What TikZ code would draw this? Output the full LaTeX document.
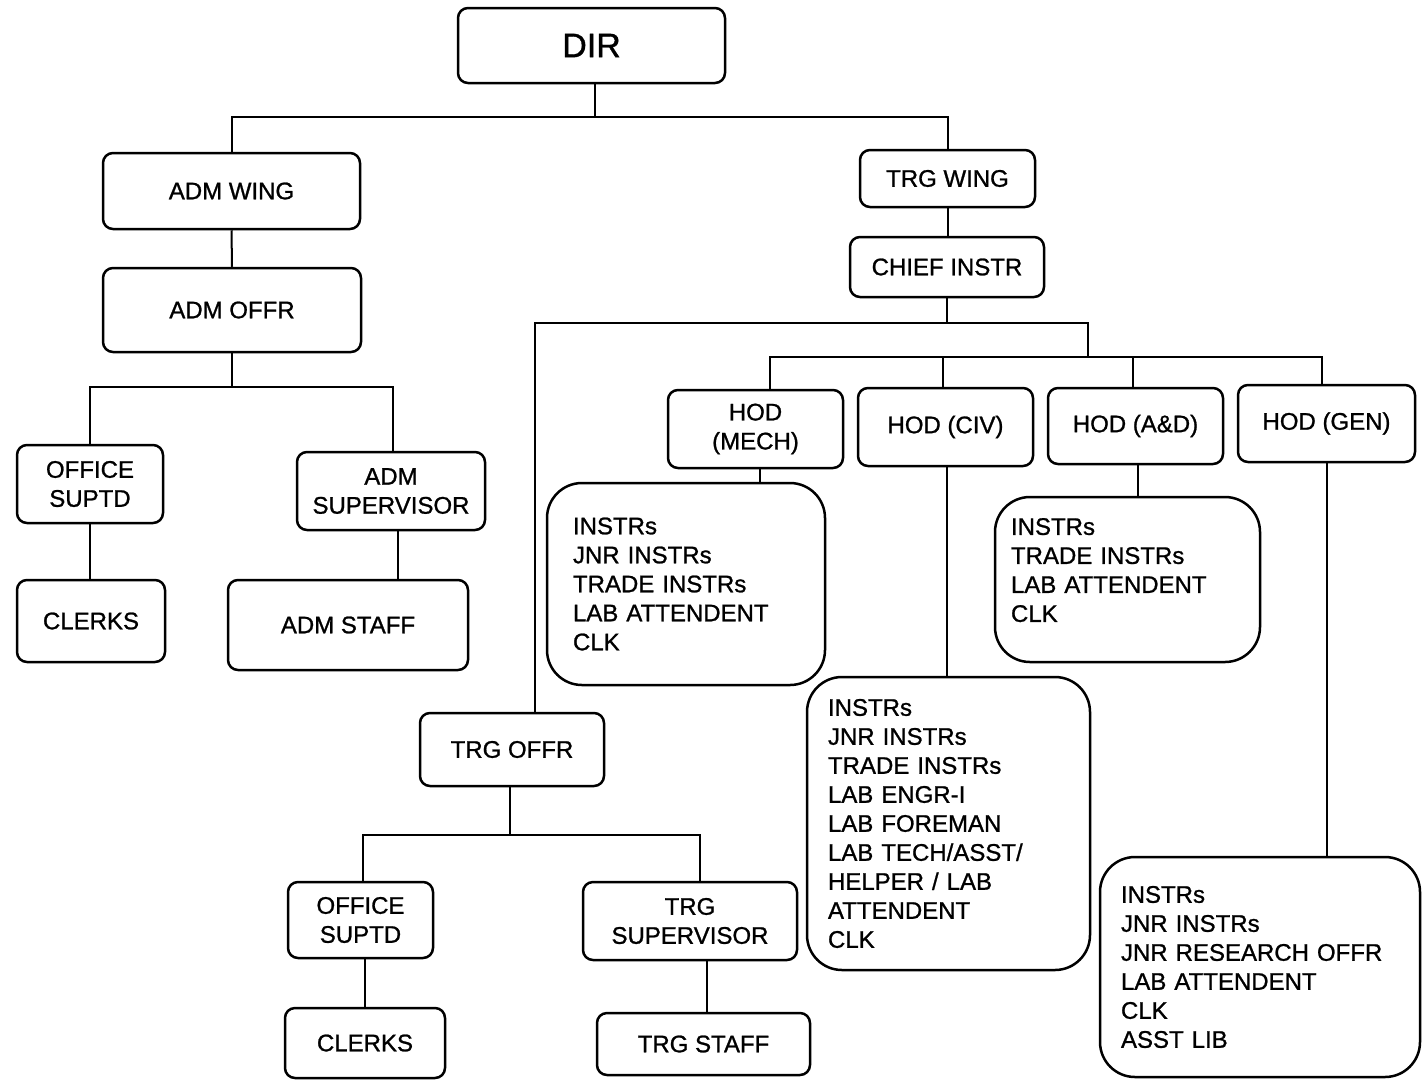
\documentclass[tikz,border=0pt]{standalone}
\usepackage{fontspec}
\setmainfont{Liberation Sans}[BoldFont={Liberation Sans},BoldFeatures={FakeBold=1}]
\begin{document}
\begin{tikzpicture}[x=1pt,y=-1pt,
  box/.style={draw, line width=2.5pt, rounded corners=10pt, align=center,
    font=\fontsize{24}{29}\selectfont\bfseries, inner sep=0pt},
  staff/.style={draw, line width=2.5pt, rounded corners=35pt, align=left,
    font=\fontsize{24}{29}\selectfont\bfseries, inner ysep=0pt},
  conn/.style={line width=2pt}]
\fill[white] (0,0) rectangle (1423,1080);
\useasboundingbox (0,0) rectangle (1423,1080);

% boxes
\node[box, minimum width=267pt, minimum height=75pt, font=\fontsize{34}{40}\selectfont\bfseries] (dir) at (591.5,45.5) {DIR};
\node[box, minimum width=257pt, minimum height=76pt] (admwing) at (231.5,191) {ADM WING};
\node[box, minimum width=258pt, minimum height=84pt] (admoffr) at (232,310) {ADM OFFR};
\node[box, minimum width=146pt, minimum height=78pt] (offsup1) at (90,484) {OFFICE\\SUPTD};
\node[box, minimum width=188pt, minimum height=78pt] (admsup) at (391,491) {ADM\\SUPERVISOR};
\node[box, minimum width=148pt, minimum height=82pt] (clerks1) at (91,621) {CLERKS};
\node[box, minimum width=240pt, minimum height=90pt] (admstaff) at (348,625) {ADM STAFF};

\node[box, minimum width=175pt, minimum height=57pt] (trgwing) at (947.5,178.5) {TRG WING};
\node[box, minimum width=194pt, minimum height=60pt] (chief) at (947,267) {CHIEF INSTR};
\node[box, minimum width=175pt, minimum height=78pt] (hodmech) at (755.5,429) {HOD\\(MECH)};
\node[box, minimum width=175pt, minimum height=78pt] (hodciv) at (945.5,427) {HOD (CIV)};
\node[box, minimum width=175pt, minimum height=76pt] (hodad) at (1135.5,426) {HOD (A\&D)};
\node[box, minimum width=177pt, minimum height=77pt] (hodgen) at (1326.5,423.5) {HOD (GEN)};

\node[staff, minimum height=202pt, text width=226pt, inner xsep=26pt] (mechstaff) at (686,584)
  {INSTRs\\JNR INSTRs\\TRADE INSTRs\\LAB ATTENDENT\\CLK};
\node[staff, minimum height=165pt, text width=233pt, inner xsep=16pt] (adstaff) at (1127.5,579.5)
  {INSTRs\\TRADE INSTRs\\LAB ATTENDENT\\CLK\\[-10pt]\mbox{}};
\node[staff, minimum height=293pt, text width=241pt, inner xsep=21pt] (civstaff) at (948.5,823.5)
  {INSTRs\\JNR INSTRs\\TRADE INSTRs\\LAB ENGR-I\\LAB FOREMAN\\LAB TECH/ASST/\\HELPER / LAB\\ATTENDENT\\CLK};
\node[staff, minimum height=220pt, text width=278pt, inner xsep=21pt] (genstaff) at (1260,967)
  {INSTRs\\JNR INSTRs\\JNR RESEARCH OFFR\\LAB ATTENDENT\\CLK\\ASST LIB};

\node[box, minimum width=184pt, minimum height=73pt] (trgoffr) at (512,749.5) {TRG OFFR};
\node[box, minimum width=145pt, minimum height=76pt] (offsup2) at (360.5,920) {OFFICE\\SUPTD};
\node[box, minimum width=214pt, minimum height=78pt] (trgsup) at (690,921) {TRG\\SUPERVISOR};
\node[box, minimum width=160pt, minimum height=70pt] (clerks2) at (365,1043) {CLERKS};
\node[box, minimum width=213pt, minimum height=62pt] (trgstaff) at (703.5,1044) {TRG STAFF};

% bus points
\coordinate (busA) at (595,117);
\coordinate (busB) at (233,387);
\coordinate (busC) at (1088,323);
\coordinate (busD) at (1088,357);
\coordinate (busE) at (510,835);

% connectors
\draw[conn] ([xshift=3.5pt]dir.south) -- (busA);
\draw[conn] (admwing.north) |- (busA) -| (trgwing.north);
\draw[conn] (admwing.south) -- (admoffr.north);
\draw[conn] (admoffr.south) -- (admoffr.south |- busB);
\draw[conn] (offsup1.north) |- (admoffr.south |- busB) -| ([xshift=2pt]admsup.north);
\draw[conn] (offsup1.south) -- (offsup1.south |- clerks1.north);
\draw[conn] ([xshift=7pt]admsup.south) coordinate (t1) -- (t1 |- admstaff.north);

\draw[conn] (trgwing.south) -- (trgwing.south |- chief.north);
\draw[conn] (chief.south) -- (chief.south |- busC);
\draw[conn] ([xshift=23pt]trgoffr.north) |- (busC) -- (busD);
\draw[conn] ([xshift=14.5pt]hodmech.north) |- (busD) -| ([xshift=-4.5pt]hodgen.north);
\draw[conn] ([xshift=-2.5pt]hodciv.north) coordinate (t2) -- (t2 |- busD);
\draw[conn] ([xshift=-2.5pt]hodad.north) coordinate (t3) -- (t3 |- busD);

\draw[conn] ([xshift=4.5pt]hodmech.south) coordinate (t4) -- (t4 |- mechstaff.north);
\draw[conn] ([xshift=1pt]hodciv.south) coordinate (t5) -- (t5 |- civstaff.north);
\draw[conn] ([xshift=2.5pt]hodad.south) coordinate (t6) -- (t6 |- adstaff.north);
\draw[conn] (hodgen.south) -- (hodgen.south |- genstaff.north);

\draw[conn] ([xshift=-2pt]trgoffr.south) coordinate (t7) -- (busE);
\draw[conn] ([xshift=2.5pt]offsup2.north) |- (busE) -| ([xshift=10pt]trgsup.north);
\draw[conn] ([xshift=4.5pt]offsup2.south) coordinate (t8) -- (t8 |- clerks2.north);
\draw[conn] ([xshift=17pt]trgsup.south) coordinate (t9) -- (t9 |- trgstaff.north);
\end{tikzpicture}
\end{document}
